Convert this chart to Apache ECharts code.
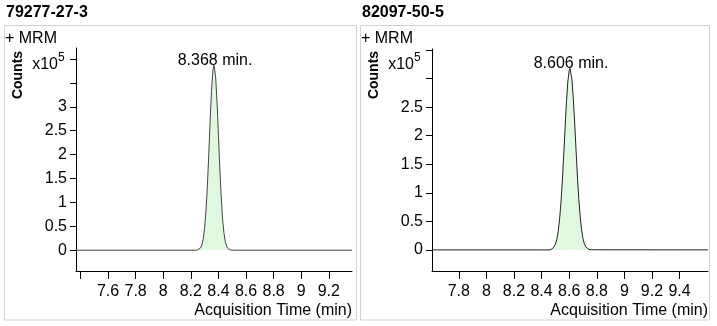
<!DOCTYPE html>
<html>
<head>
<meta charset="utf-8">
<script src="https://cdn.jsdelivr.net/npm/echarts@6/dist/echarts.min.js"></script>
<style>
html,body{margin:0;padding:0;background:#fff;}
#c{width:717px;height:326px;}
</style>
</head>
<body>
<div id="c"></div>
<script>
// ---- data (counts in units of 1e5) ----
const panelTitles = ['79277-27-3', '82097-50-5'];
const retentionTimes = [8.368, 8.606];
const xRanges = [[7.368, 9.368], [7.606, 9.606]];
const yRanges = [[-0.435, 4.23], [-0.37, 3.52]];

const leftTimes = [7.368, 8.23, 8.24, 8.25, 8.26, 8.27, 8.28, 8.29, 8.30, 8.31, 8.32, 8.33, 8.34, 8.35, 8.36, 8.368,
  8.38, 8.39, 8.40, 8.41, 8.42, 8.43, 8.44, 8.45, 8.46, 8.47, 8.48, 8.49, 8.50, 8.51, 9.368];
const leftCounts = [0, 0, 0.002, 0.007, 0.018, 0.047, 0.11, 0.24, 0.46, 0.83, 1.34, 2.0, 2.70, 3.34, 3.76, 3.87,
  3.62, 3.10, 2.42, 1.72, 1.12, 0.66, 0.36, 0.18, 0.08, 0.033, 0.012, 0.004, 0.001, 0, 0];

const rightTimes = [7.606, 8.46, 8.47, 8.48, 8.49, 8.50, 8.51, 8.52, 8.53, 8.54, 8.55, 8.56, 8.57, 8.58, 8.59, 8.60, 8.606,
  8.61, 8.62, 8.63, 8.64, 8.65, 8.66, 8.67, 8.68, 8.69, 8.70, 8.71, 8.72, 8.73, 8.74, 8.75, 8.76, 8.77, 9.606];
const rightCounts = [0, 0, 0.01, 0.022, 0.047, 0.095, 0.18, 0.32, 0.52, 0.82, 1.19, 1.64, 2.12, 2.58, 2.94, 3.14, 3.18,
  3.16, 2.99, 2.66, 2.22, 1.74, 1.28, 0.88, 0.58, 0.35, 0.20, 0.11, 0.055, 0.026, 0.012, 0.005, 0.002, 0, 0];

const leftXTicks = [7.4, 7.6, 7.8, 8.0, 8.2, 8.4, 8.6, 8.8, 9.0, 9.2];
const leftXLabels = [7.6, 7.8, 8.0, 8.2, 8.4, 8.6, 8.8, 9.0, 9.2];
const rightXTicks = [7.8, 8.0, 8.2, 8.4, 8.6, 8.8, 9.0, 9.2, 9.4];
const rightXLabels = [7.8, 8.0, 8.2, 8.4, 8.6, 8.8, 9.0, 9.2, 9.4];
const leftYTicks = [0, 0.5, 1, 1.5, 2, 2.5, 3, 3.5, 4];
const leftYLabels = [0, 0.5, 1, 1.5, 2, 2.5, 3];
const rightYTicks = [0, 0.5, 1, 1.5, 2, 2.5, 3, 3.5];
const rightYLabels = [0, 0.5, 1, 1.5, 2, 2.5];

// ---- chart ----
const FONT = '"Liberation Sans", Arial, sans-serif';
const chart = echarts.init(document.getElementById('c'), null, {renderer: 'canvas'});

const grids = [
  {left: 76, top: 48, width: 276, height: 223},
  {left: 432, top: 49, width: 276, height: 222}
];
const panelX = [4, 360];
const panelW = [352, 349];
const xTicks = [leftXTicks, rightXTicks];
const xLabels = [leftXLabels, rightXLabels];
const yTicks = [leftYTicks, rightYTicks];
const yLabels = [leftYLabels, rightYLabels];
const seriesData = [
  leftTimes.map((t, i) => [t, leftCounts[i]]),
  rightTimes.map((t, i) => [t, rightCounts[i]])
];

const fmt = v => String(Math.round(v * 10) / 10);

const option = {
  animation: false,
  grid: grids.map(g => Object.assign({containLabel: false}, g)),
  xAxis: [0, 1].map(i => ({
    type: 'value', gridIndex: i, min: xRanges[i][0], max: xRanges[i][1],
    axisLine: {show: true, onZero: false, lineStyle: {color: '#000', width: 1}},
    axisTick: {show: true, length: 8, customValues: xTicks[i], lineStyle: {color: '#000'}},
    axisLabel: {customValues: xLabels[i], formatter: fmt, margin: 13, color: '#000', fontSize: 16, fontFamily: FONT},
    splitLine: {show: false}
  })),
  yAxis: [0, 1].map(i => ({
    type: 'value', gridIndex: i, min: yRanges[i][0], max: yRanges[i][1],
    axisLine: {show: true, onZero: false, lineStyle: {color: '#000', width: 1}},
    axisTick: {show: true, length: 6, customValues: yTicks[i], lineStyle: {color: '#000'}},
    axisLabel: {customValues: yLabels[i], formatter: fmt, margin: 9, color: '#000', fontSize: 16, fontFamily: FONT},
    splitLine: {show: false}
  })),
  series: [0, 1].map(i => ({
    type: 'line', xAxisIndex: i, yAxisIndex: i,
    data: seriesData[i], showSymbol: false, symbol: 'none',
    lineStyle: {color: i === 0 ? '#444' : '#222', width: 1},
    areaStyle: {color: '#e0f8e0', opacity: 1},
    markPoint: {
      symbol: 'circle', symbolSize: 0,
      data: [{coord: [retentionTimes[i], Math.max(...seriesData[i].map(p => p[1]))]}],
      label: {show: true, position: 'inside', offset: [1, -5],
        formatter: () => retentionTimes[i].toFixed(3) + ' min.',
        color: '#000', fontSize: 16, fontFamily: FONT}
    }
  })),
  graphic: [].concat(...[0, 1].map(i => {
    const px = panelX[i];
    const gl = grids[i].left;
    return [
      {type: 'rect', shape: {x: px + 0.5, y: 25.5, width: panelW[i], height: 294.5},
        style: {fill: 'none', stroke: '#d2d2d2', lineWidth: 1}, silent: true},
      {type: 'text', x: px + 2, y: 13, style: {text: panelTitles[i], font: 'bold 16px ' + FONT, fill: '#000', verticalAlign: 'middle'}},
      {type: 'text', x: px + 1, y: 39, style: {text: '+ MRM', font: '16px ' + FONT, fill: '#000', verticalAlign: 'middle'}},
      {type: 'text', x: px + 14, y: 75, rotation: Math.PI / 2,
        style: {text: 'Counts', font: 'bold 14px ' + FONT, fill: '#000', align: 'center', verticalAlign: 'middle'}},
      {type: 'text', x: gl - 18, y: 65, style: {text: 'x10', font: '16px ' + FONT, fill: '#000', align: 'right', verticalAlign: 'middle'}},
      {type: 'text', x: gl - 18, y: 58, style: {text: '5', font: '12px ' + FONT, fill: '#000', align: 'left', verticalAlign: 'middle'}},
      {type: 'text', x: gl + 276, y: 311, style: {text: 'Acquisition Time (min)', font: '16px ' + FONT, fill: '#000', align: 'right', verticalAlign: 'middle'}}
    ];
  }))
};
chart.setOption(option);
</script>
</body>
</html>
